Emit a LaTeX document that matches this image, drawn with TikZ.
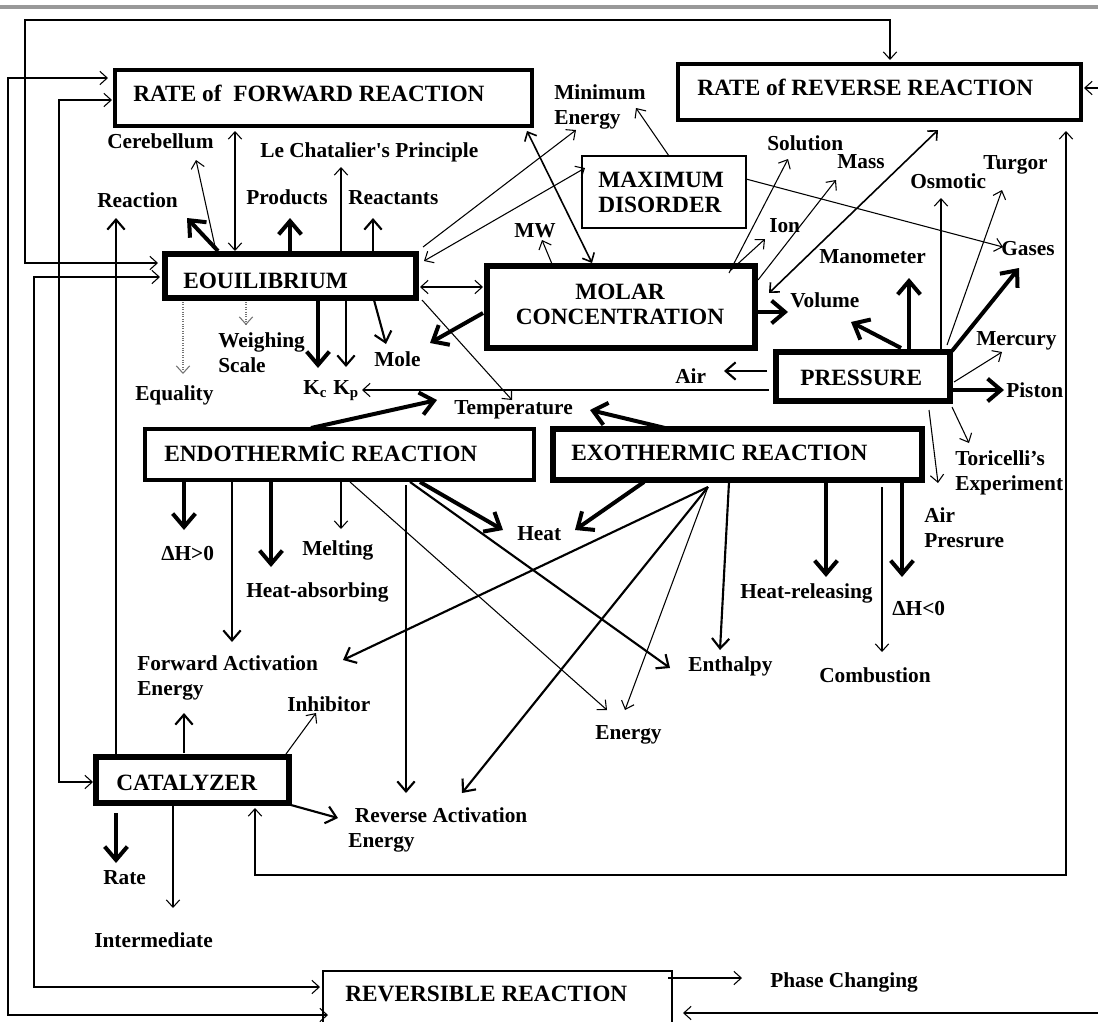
\documentclass[tikz,border=0pt]{standalone}
\usepackage{fontspec}
\setmainfont{Liberation Serif}
\newfontfamily\rawserif{Liberation Serif}
\usetikzlibrary{arrows.meta,fit}
\tikzset{
  thinTip/.tip={Straight Barb[length=5.5pt,width=10pt]},
  medTip/.tip={Straight Barb[length=7.5pt,width=13pt]},
  thickTip/.tip={Straight Barb[length=10pt,width=17pt]},
  lab/.style={font=\fontsize{16}{18.75}\selectfont\bfseries, inner sep=0pt, anchor=base west, align=left},
  btxt/.style={font=\fontsize{17.5}{18.5}\selectfont\bfseries, inner sep=0pt, anchor=base west, align=left},
  bxA/.style={draw, line width=3pt, inner sep=0pt},
  bxB/.style={draw, line width=4pt, inner sep=0pt},
  bxT/.style={draw, line width=0.9pt, inner sep=0pt},
  a1/.style={line width=0.8pt, -thinTip},
  a2/.style={line width=1.6pt, -medTip},
  a3/.style={line width=3pt, -thickTip},
  d1/.style={line width=0.8pt, thinTip-thinTip},
  d15/.style={line width=1.2pt, thinTip-thinTip},
  dt/.style={line width=0.8pt, densely dotted, black!55, -thinTip},
}
\begin{document}
\begin{tikzpicture}[x=0.75pt,y=-0.75pt]
\useasboundingbox (0,0) rectangle (1098,1021);
\clip (0,0) rectangle (1098,1021);
\fill[black!40] (0,5) rectangle (1098,9);

% boxes
\node[bxA, fit={(115,70)(532,126)}] (rf) {};
\node[bxA, fit={(678,64)(1081,120)}] (rr) {};
\node[bxB, fit={(165,254)(416,298)}] (eq) {};
\node[bxT, fit={(582,156)(746,228)}] (md) {};
\node[bxB, fit={(487,266)(755,348)}] (mc) {};
\node[bxB, fit={(776,352)(950,401)}] (pr) {};
\node[bxA, fit={(145,429)(534,480)}] (en) {};
\node[bxB, fit={(553,429)(922,480)}] (ex) {};
\node[bxB, fit={(96,757)(289,803)}] (ca) {};
\node[bxT, fit={(323,971)(672,1040)}] (rv) {};

% box texts
\node[btxt] (trf) at (133,101) {RATE of\ \ FORWARD REACTION};
\node[btxt] (trr) at (697,95) {RATE of REVERSE REACTION};
\node[btxt] (teq) at (183,288) {EOUILIBRIUM};
\node[btxt] (tmd) at (598,212) {MAXIMUM\\DISORDER};
\node[btxt, anchor=base, align=center] (tmc) at (620,324) {MOLAR\\CONCENTRATION};
\node[btxt] (tpr) at (800,385) {PRESSURE};
\node[btxt] (ten) at (164,461) {ENDOTHERMİC REACTION};
\node[btxt] (tex) at (571,460) {EXOTHERMIC REACTION};
\node[btxt] (tca) at (116,790) {CATALYZER};
\node[btxt] (trv) at (345,1001) {REVERSIBLE REACTION};

% labels
\node[lab] (minE) at (554,124) {Minimum\\Energy};
\node[lab] (cereb) at (107,148) {Cerebellum};
\node[lab] (lecha) at (260,157) {Le Chatalier{\rawserif '}s Principle};
\node[lab] (reac) at (97,207) {Reaction};
\node[lab] (prod) at (246,204) {Products};
\node[lab] (react) at (348,204) {Reactants};
\node[lab] (mw) at (514,237) {MW};
\node[lab] (sol) at (767,150) {Solution};
\node[lab] (mass) at (837,168) {Mass};
\node[lab] (turg) at (983,169) {Turgor};
\node[lab] (osm) at (910,188) {Osmotic};
\node[lab] (ion) at (769,232) {Ion};
\node[lab] (gas) at (1001,255) {Gases};
\node[lab] (mano) at (819,263) {Manometer};
\node[lab] (vol) at (790,307) {Volume};
\node[lab] (merc) at (976,345) {Mercury};
\node[lab] (air) at (675,383) {Air};
\node[lab] (pist) at (1006,397) {Piston};
\node[lab] (weigh) at (218,372) {Weighing\\Scale};
\node[lab] (mole) at (374,366) {Mole};
\node[lab] (kc) at (303,394) {K\textsubscript{c}};
\node[lab] (kp) at (333,394) {K\textsubscript{p}};
\node[lab] (equal) at (135,400) {Equality};
\node[lab] (temp) at (454,414) {Temperature};
\node[lab] (tori) at (955,490) {Toricelli’s\\Experiment};
\node[lab] (airp) at (924,547) {Air\\Presrure};
\node[lab] (heat) at (517,540) {Heat};
\node[lab] (dhp) at (161,560) {ΔH>0};
\node[lab] (melt) at (302,555) {Melting};
\node[lab] (habs) at (246,597) {Heat-absorbing};
\node[lab] (hrel) at (740,598) {Heat-releasing};
\node[lab] (dhn) at (892,615) {ΔH<0};
\node[lab] (fwd) at (137,695) {Forward Activation\\Energy};
\node[lab] (enth) at (688,671) {Enthalpy};
\node[lab] (comb) at (819,682) {Combustion};
\node[lab] (inhib) at (287,711) {Inhibitor};
\node[lab] (energy) at (595,739) {Energy};
\node[lab] (rev) at (348,847) {\hspace*{5pt}Reverse Activation\\Energy};
\node[lab] (rate) at (103,884) {Rate};
\node[lab] (inter) at (94,947) {Intermediate};
\node[lab] (phase) at (770,987) {Phase Changing};

% outer loops
\draw[d1] (158,263) -- (25,263) -- (25,20) -- (890,20) -- (890,60);
\draw[d1] (108,78) -- (8,78) -- (8,1015) -- (328,1015);
\draw[d1] (112,100) -- (59,100) -- (59,782) -- (93,782);
\draw[d1] (160,277) -- (34,277) -- (34,987) -- (320,987);
\draw[d1] (255,808) -- (255,875) -- (1066,875) -- (1066,131);
\draw[a1] (1098,88) -- (1084,88);
\draw[a1] (1098,1013) -- (683,1013);
\draw[a1] (668,978) -- (742,978);

% equilibrium
\draw[d1] (235,131) -- (235,251);
\draw[a1] (216,251) -- (196,160);
\draw[a3] (218,251) -- (187,218);
\draw[a2] (116,755) -- (116,218);
\draw[a3] (290,251) -- (290,218);
\draw[a1] (341,251) -- (341,167);
\draw[a2] (373,251) -- (373,218);
\draw[a1] (423,247) -- (576,130);
\draw[d1] (424,261) -- (585,168);
\draw[d1] (420,287) -- (483,287);
\draw[a1] (422,300) -- (512,400);
\draw[d15] (527,131) -- (592,263);
\draw[a1] (552,264) -- (542,240);
\draw[dt] (183,302) -- (183,374);
\draw[dt] (246,302) -- (246,325);
\draw[a3] (318,300) -- (318,368);
\draw[a2] (346,300) -- (346,367);
\draw[a2] (374,300) -- (386,344);
\draw[a3] (483,313) -- (430,343);
\draw[a1] (769,390) -- (362,390);

% maximum disorder
\draw[a1] (669,156) -- (636,108);
\draw[a1] (746,179) -- (1003,247);

% molar concentration
\draw[a1] (731,270) -- (765,239);
\draw[a1] (729,273) -- (788,159);
\draw[a1] (758,280) -- (836,180);
\draw[d15] (938,130) -- (769,293);
\draw[a3] (757,312) -- (788,312);

% pressure
\draw[a3] (909,349) -- (909,278);
\draw[a3] (901,348) -- (851,322);
\draw[a1] (941,350) -- (941,198);
\draw[a1] (947,345) -- (1002,190);
\draw[a3] (952,351) -- (1019,268);
\draw[a1] (954,382) -- (1002,352);
\draw[a3] (952,390) -- (1004,390);
\draw[a1] (952,407) -- (969,443);
\draw[a1] (929,410) -- (938,483);
\draw[a2] (767,371) -- (724,371);

% endothermic / exothermic
\draw[a3] (311,428) -- (437,400);
\draw[a3] (665,428) -- (590,410);
\draw[a3] (184,482) -- (184,530);
\draw[a2] (232,482) -- (232,642);
\draw[a3] (271,482) -- (271,567);
\draw[a1] (341,482) -- (341,529);
\draw[a1] (350,482) -- (607,710);
\draw[a2] (406,485) -- (406,793);
\draw[a3] (420,482) -- (503,530);
\draw[a2] (410,482) -- (670,668);
\draw[a3] (644,482) -- (575,530);
\draw[a2] (708,487) -- (343,660);
\draw[a2] (708,487) -- (462,793);
\draw[a1] (708,487) -- (625,710);
\draw[a2] (729,482) -- (720,650);
\draw[a3] (826,482) -- (826,577);
\draw[a1] (882,487) -- (882,652);
\draw[a3] (902,482) -- (902,577);

% catalyzer
\draw[a2] (184,753) -- (184,713);
\draw[a1] (286,754) -- (316,713);
\draw[a3] (116,813) -- (116,863);
\draw[a1] (173,806) -- (173,908);
\draw[a2] (291,805) -- (338,818);
\end{tikzpicture}
\end{document}
